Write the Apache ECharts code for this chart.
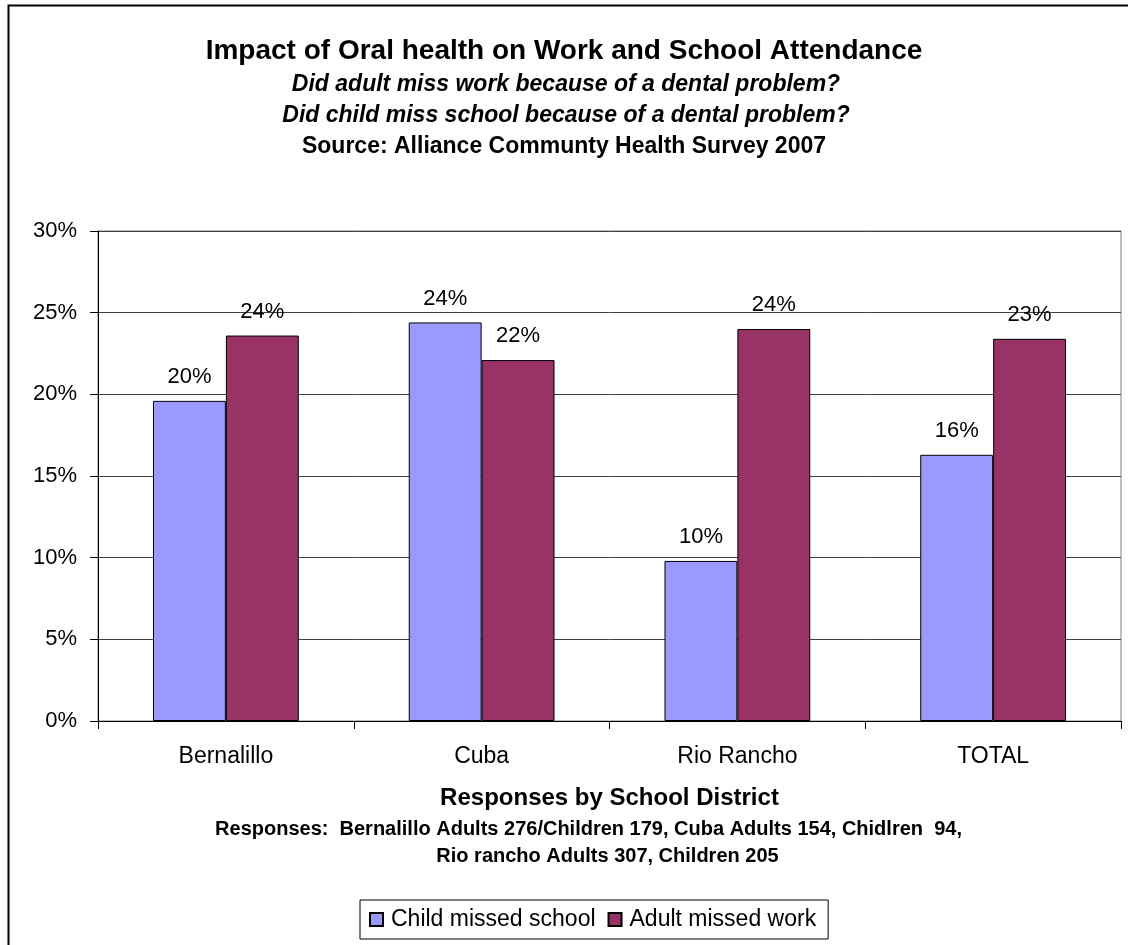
<!DOCTYPE html>
<html>
<head>
<meta charset="utf-8">
<script src="https://cdn.jsdelivr.net/npm/echarts@6/dist/echarts.min.js"></script>
<style>
  html, body { margin: 0; padding: 0; background: #fff; }
  #chart { width: 1128px; height: 945px; }
</style>
</head>
<body>
<div id="chart"></div>
<script>
// School districts surveyed
const categories = ['Bernalillo', 'Cuba', 'Rio Rancho', 'TOTAL'];
// Share of respondents (percent)
const childMissedSchool = [19.6, 24.4, 9.8, 16.3];
const adultMissedWork = [23.6, 22.1, 24.0, 23.4];
// Value axis ticks (percent)
const yTicks = [0, 5, 10, 15, 20, 25, 30];

const FONT = '"Liberation Sans", Arial, Helvetica, sans-serif';

const chart = echarts.init(document.getElementById('chart'), null, { renderer: 'canvas' });

// centre of the plot area, used for the axis title block
const PLOT_CX = 609.5;

function centeredText(text, x, y, font) {
  return {
    type: 'text', x: x, y: y, silent: true,
    style: { text: text, font: font, fill: '#000', align: 'center', verticalAlign: 'middle' }
  };
}

const labelStyle = {
  show: true,
  position: 'top',
  distance: 13,
  fontFamily: FONT,
  fontSize: 22,
  color: '#000',
  formatter: p => Math.round(p.value) + '%'
};

const option = {
  backgroundColor: '#fff',
  animation: false,
  textStyle: { fontFamily: FONT, color: '#000' },
  graphic: [
    // outer chart border
    { type: 'rect', shape: { x: 8.5, y: 5.5, width: 1200, height: 1000 },
      style: { fill: 'none', stroke: '#000', lineWidth: 2 }, silent: true, z: -1 },
    centeredText('Impact of Oral health on Work and School Attendance', 564, 51, 'bold 28px ' + FONT),
    centeredText('Did adult miss work because of a dental problem?', 566, 85, 'italic bold 23px ' + FONT),
    centeredText('Did child miss school because of a dental problem?', 566, 116, 'italic bold 23px ' + FONT),
    centeredText('Source: Alliance Communty Health Survey 2007', 564, 147, 'bold 23px ' + FONT),
    centeredText('Responses by School District', PLOT_CX, 798, 'bold 24px ' + FONT),
    centeredText('Responses:  Bernalillo Adults 276/Children 179, Cuba Adults 154, Chidlren  94,', PLOT_CX - 21, 829, 'bold 20px ' + FONT),
    centeredText('Rio rancho Adults 307, Children 205', PLOT_CX - 2, 856, 'bold 20px ' + FONT)
  ],
  legend: {
    left: 360,
    top: 900,
    padding: [8, 12, 8, 9],
    itemGap: 12,
    itemWidth: 13,
    itemHeight: 13,
    icon: 'rect',
    borderColor: '#000',
    borderWidth: 1,
    textStyle: { fontFamily: FONT, fontSize: 23, color: '#000', padding: [0, 0, 0, 3] },
    data: ['Child missed school', 'Adult missed work']
  },
  grid: {
    left: 98, right: 7, top: 231, bottom: 224,
    show: true, borderColor: '#808080', borderWidth: 1,
    containLabel: false
  },
  xAxis: {
    type: 'category',
    data: categories,
    axisLine: { lineStyle: { color: '#000', width: 1 } },
    axisTick: { show: true, length: 8, lineStyle: { color: '#000' } },
    axisLabel: { fontFamily: FONT, fontSize: 23, color: '#000', margin: 24 }
  },
  yAxis: {
    type: 'value',
    min: yTicks[0],
    max: yTicks[yTicks.length - 1],
    interval: yTicks[1] - yTicks[0],
    axisLine: { show: true, lineStyle: { color: '#000', width: 1 } },
    axisTick: { show: true, length: 8, lineStyle: { color: '#000' } },
    axisLabel: { fontFamily: FONT, fontSize: 22, color: '#000', margin: 21,
      formatter: v => v + '%' },
    splitLine: { show: true, lineStyle: { color: '#404040', width: 1 } }
  },
  series: [
    {
      name: 'Child missed school',
      type: 'bar',
      data: childMissedSchool,
      barGap: '0%',
      barCategoryGap: '43%',
      itemStyle: { color: '#9999FF', borderColor: '#000', borderWidth: 1 },
      label: labelStyle
    },
    {
      name: 'Adult missed work',
      type: 'bar',
      data: adultMissedWork,
      barGap: '0%',
      barCategoryGap: '43%',
      itemStyle: { color: '#993366', borderColor: '#000', borderWidth: 1 },
      label: labelStyle
    }
  ]
};

chart.setOption(option);
</script>
</body>
</html>
